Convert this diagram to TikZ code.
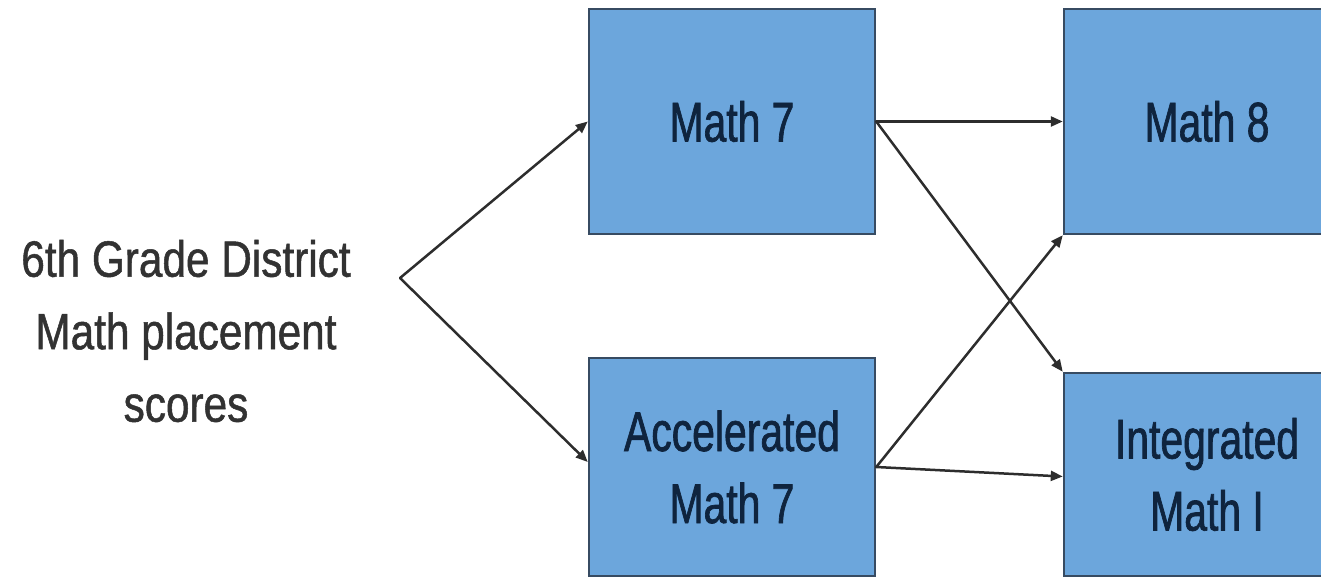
\documentclass[tikz,border=0pt]{standalone}
\usepackage{fontspec}
\setmainfont[FakeStretch=0.73,FakeBold=1.2]{Liberation Sans}
\newfontfamily\lefttextfont[FakeStretch=0.83,FakeBold=1]{Liberation Sans}
\usetikzlibrary{arrows.meta}
\definecolor{boxfill}{RGB}{108,166,220}
\definecolor{boxline}{RGB}{55,75,98}
\definecolor{boxtext}{RGB}{15,36,62}
\definecolor{lefttext}{RGB}{50,50,50}
\definecolor{arrowcol}{RGB}{45,45,45}
\begin{document}
\begin{tikzpicture}[x=1pt,y=-1pt,
  course/.style={draw=boxline, line width=2.5pt, fill=boxfill, minimum width=286pt,
    inner sep=0pt, text=boxtext, align=center,
    font=\fontsize{56}{72}\selectfont},
  conn/.style={draw=arrowcol, line width=2.5pt, line cap=round,
    -{Triangle[length=12pt,width=10pt]}}]
\useasboundingbox (0,0) rectangle (1321,577);
\clip (0,0) rectangle (1321,577);
\node[align=center, text=lefttext, inner sep=0pt,
  font=\lefttextfont\fontsize{51}{72.5}\selectfont] (src) at (186,331)
  {6th Grade District\\Math placement\\scores};
\coordinate (fork) at (400,278);
\node[course, minimum height=225pt] (m7) at (732,121.5) {Math 7};
\node[course, minimum height=225pt] (m8) at (1207,121.5) {Math 8};
\node[course, minimum height=218pt] (acc) at (732,467) {Accelerated\\Math 7};
\node[course, minimum height=203pt] (int) at (1207,474.5) {Integrated\\Math I};
\draw[conn] (fork) -- (m7.west);
\draw[conn] (fork) -- ([yshift=5pt]acc.west);
\draw[conn] (m7.east) -- (m8.west);
\draw[conn] (m7.east) -- (int.north west);
\draw[conn] (acc.east) -- (m8.south west);
\draw[conn] (acc.east) -- ([yshift=-2pt]int.west);
\end{tikzpicture}
\end{document}
